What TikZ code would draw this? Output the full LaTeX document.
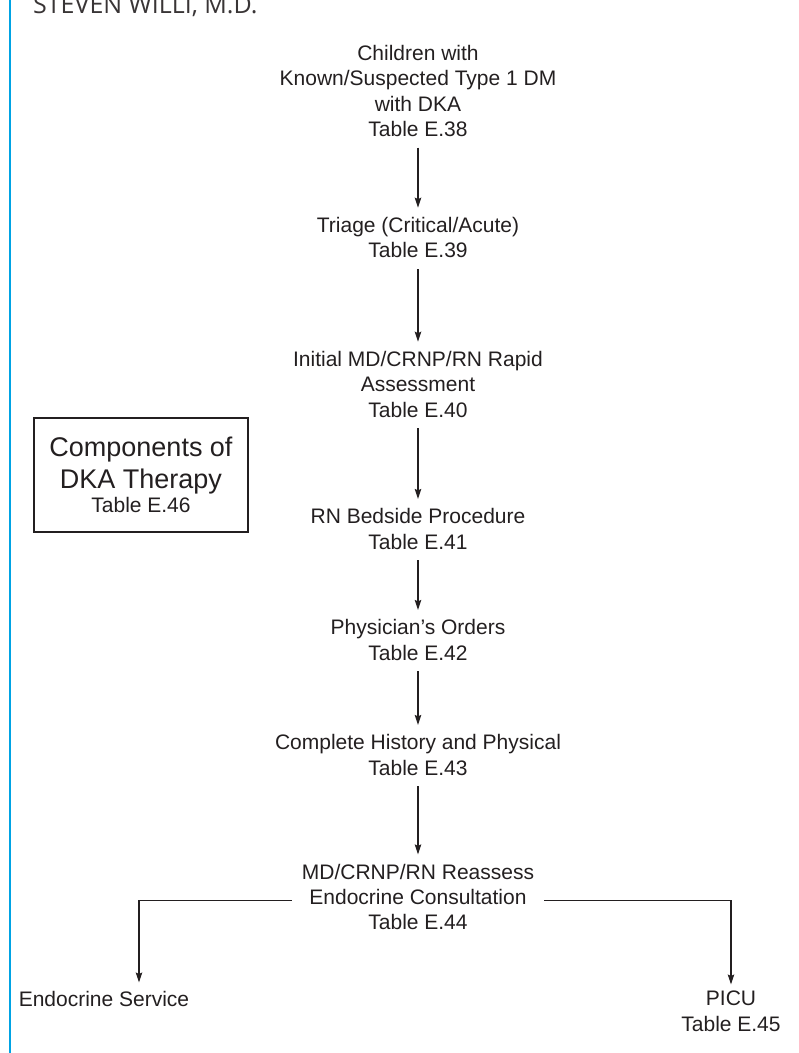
\documentclass[tikz,border=0pt]{standalone}
\usepackage{fontspec}
\setmainfont{Liberation Sans}
\newfontfamily\headfont{Open Sans}
\usetikzlibrary{positioning, arrows.meta}
\definecolor{ink}{HTML}{231F20}
\definecolor{barblue}{HTML}{00A3E4}
\newcommand{\stagefont}{\fontsize{21}{25.3}\selectfont}
\tikzset{
  stage/.style={align=center, text=ink, font=\stagefont, execute at begin node=\strut, execute at end node=\strut},
  flow/.style={-{Stealth[length=10, width=6.5, inset=1.5]}, draw=ink, line width=1.2, shorten <=3.5pt, shorten >=9.5pt},
  branch/.style={flow, shorten <=0pt, shorten >=6.5pt},
  tablebox/.style={draw=ink, line width=1.2, text=ink, align=center, minimum width=214, minimum height=114, font=\fontsize{27}{32}\selectfont},
  every node/.style={inner sep=0}
}

\begin{document}
\begin{tikzpicture}[x=1pt, y=1pt]
    \useasboundingbox (0,0) rectangle (799,-1053);
    \fill[barblue] (8.7,0) rectangle (11.3,-1053);
    \node[anchor=base west, text=ink!90, font=\headfont\fontsize{25}{28}\selectfont] (author) at (33,-13) {STEVEN WILLI, M.D.};
    \node[stage, anchor=north] (children) at (418,-45) {Children with\\Known/Suspected Type 1 DM\\with DKA\\Table E.38};
    \node[stage, below=73pt of children] (triage) {Triage (Critical/Acute)\\Table E.39};
    \node[stage, below=85.5pt of triage] (initial) {Initial MD/CRNP/RN Rapid\\Assessment\\Table E.40};
    \node[stage, below=83.5pt of initial] (bedside) {RN Bedside Procedure\\Table E.41};
    \node[stage, below=62.5pt of bedside] (orders) {Physician’s Orders\\Table E.42};
    \node[stage, below=66.5pt of orders] (history) {Complete History and Physical\\Table E.43};
    \node[stage, below=81pt of history, inner xsep=10] (reassess) {MD/CRNP/RN Reassess\\Endocrine Consultation\\Table E.44};
    \node[stage, anchor=north] (endocrine) at (104,-989) {Endocrine Service};
    \node[stage, anchor=north] (picu) at (731,-991) {PICU\\Table E.45};
    \node[tablebox] (components) at (141,-475) {Components of\\DKA Therapy\\[-8pt]{\fontsize{21}{25}\selectfont Table E.46}};
    \draw[flow] (children) -- (triage);
    \draw[flow] (triage) -- (initial);
    \draw[flow] (initial) -- (bedside);
    \draw[flow] (bedside) -- (orders);
    \draw[flow] (orders) -- (history);
    \draw[flow] (history) -- (reassess);
    \draw[branch] (reassess.west) -| ([xshift=35]endocrine.north);
    \draw[branch] (reassess.east) -| (picu);
\end{tikzpicture}
\end{document}
